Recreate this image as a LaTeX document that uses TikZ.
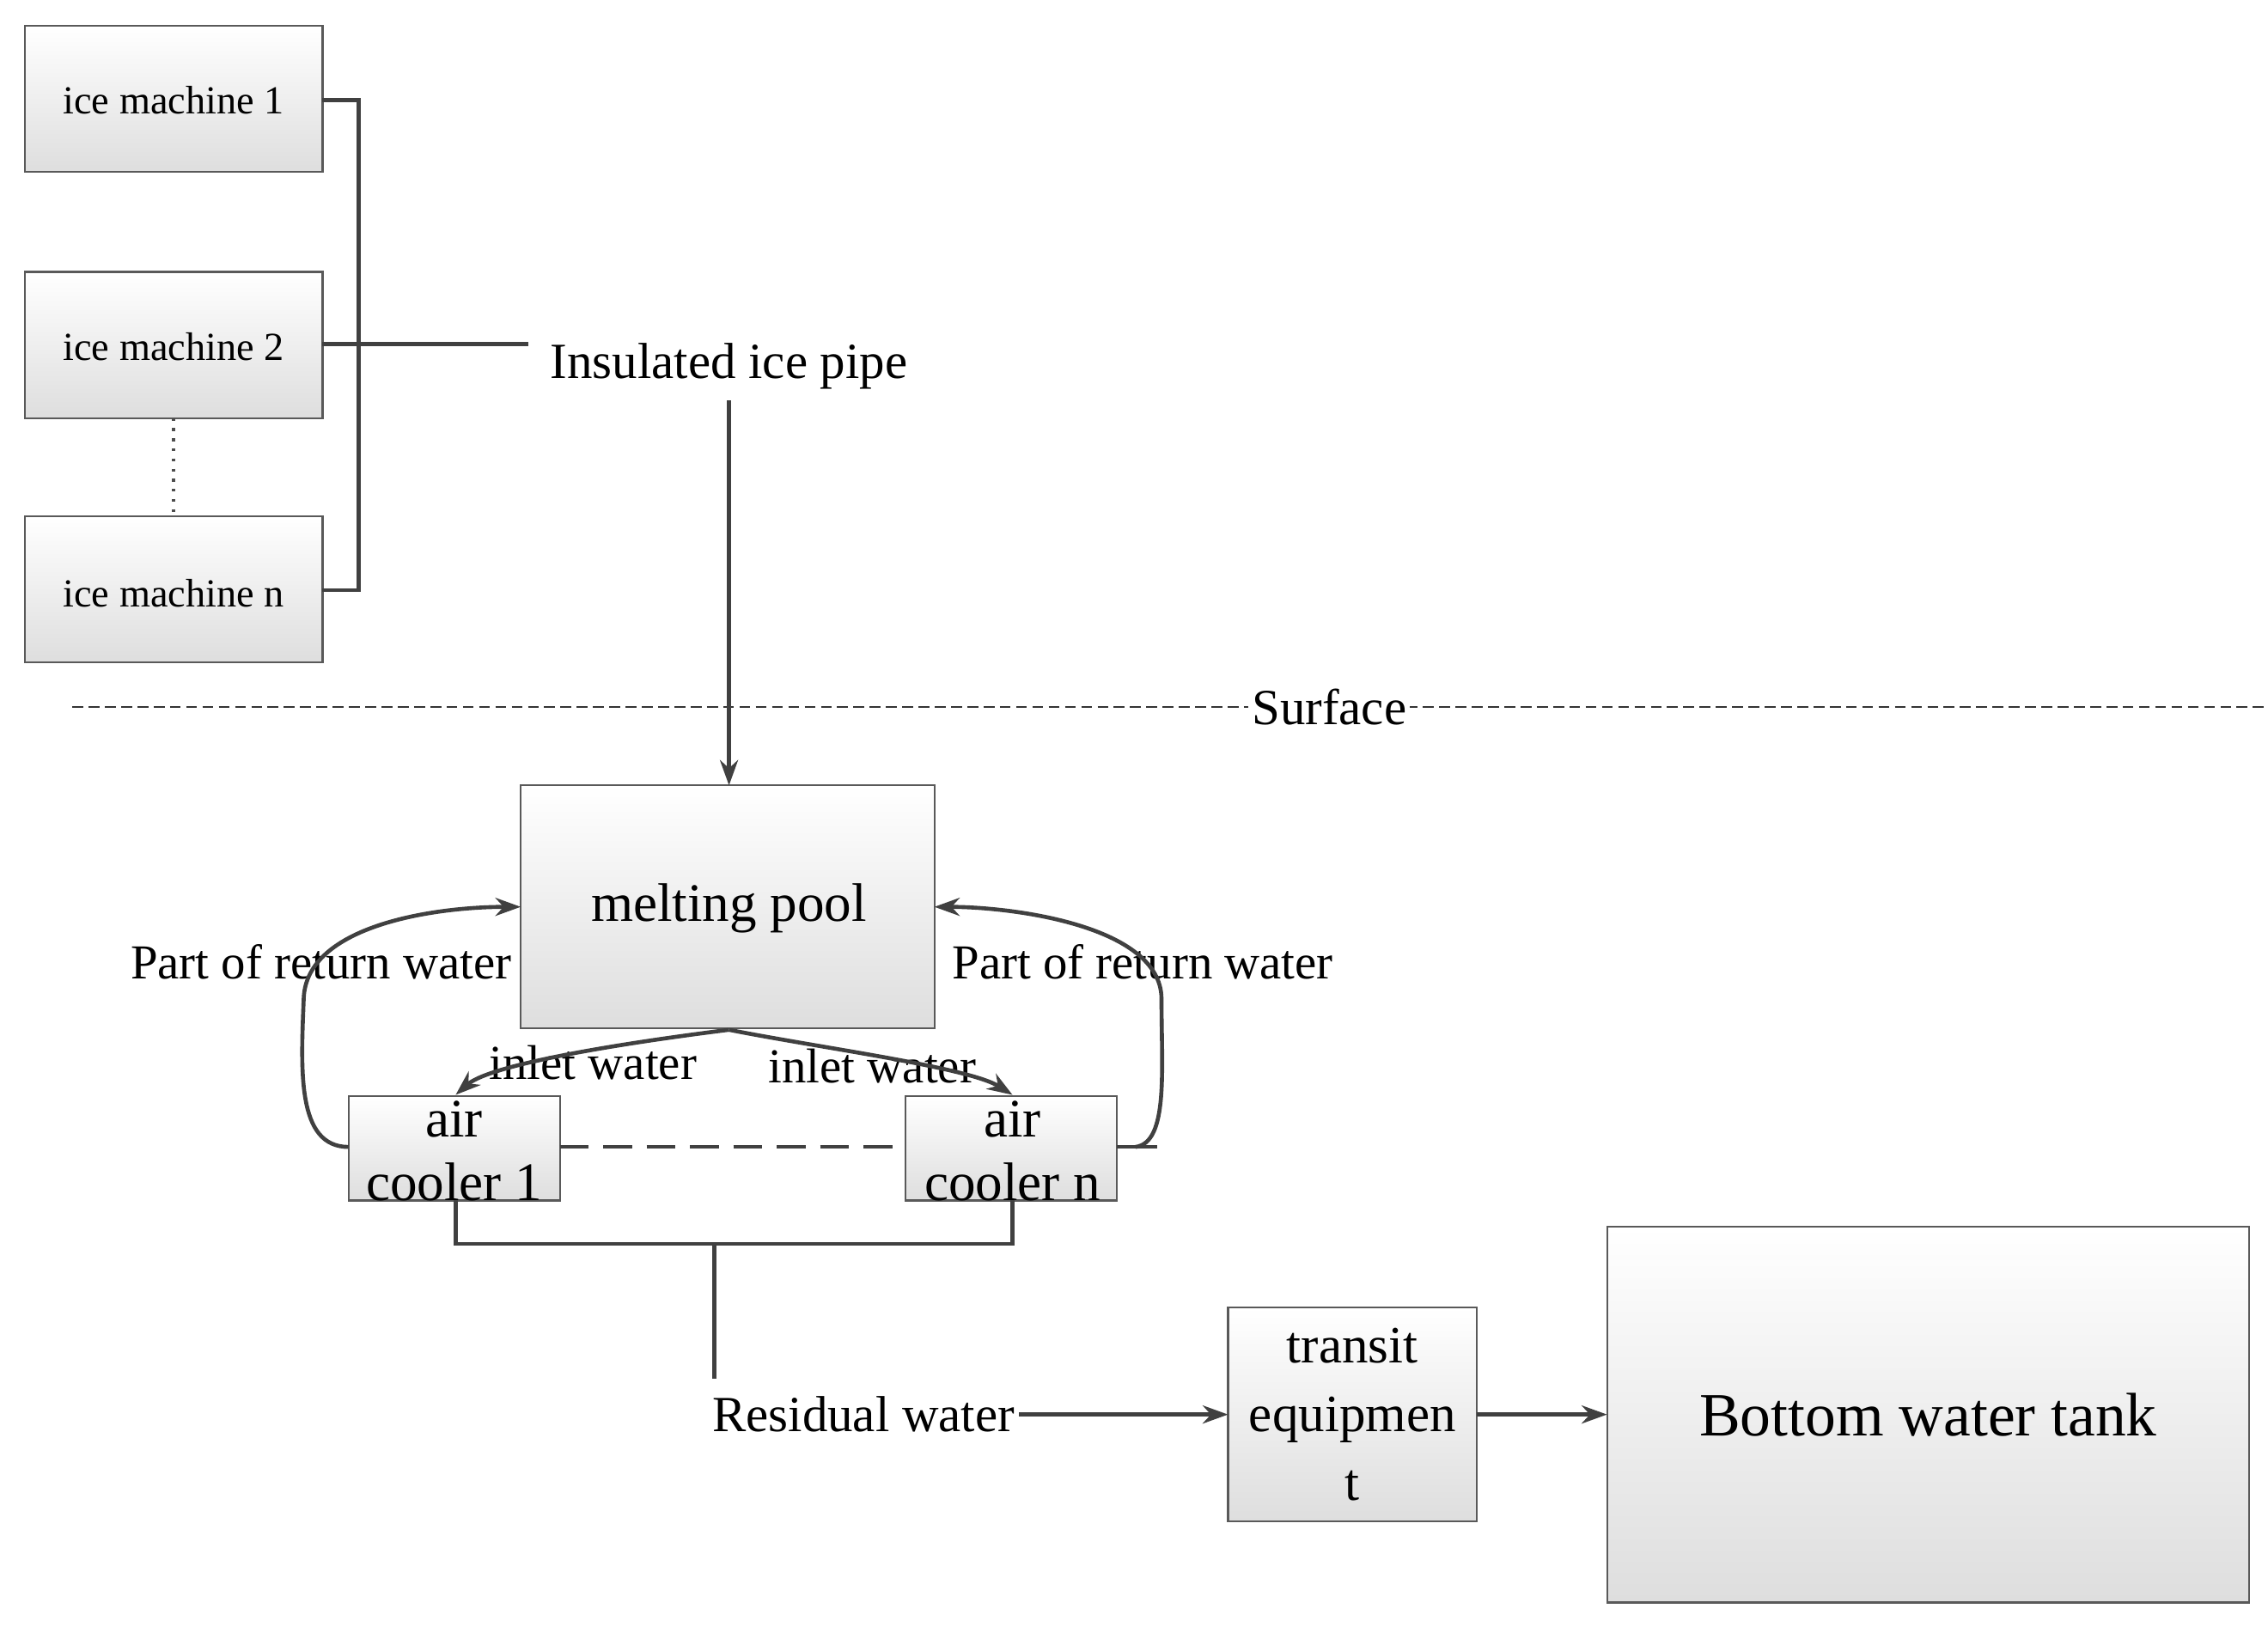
\documentclass[tikz,border=0pt]{standalone}
\usepackage{fontspec}
\setmainfont{Liberation Serif}
\usetikzlibrary{arrows.meta}
\begin{document}
\begin{tikzpicture}[x=0.4pt,y=-0.4pt,
  box/.style={draw=black!65,line width=0.5pt,top color=white,bottom color=black!13,inner sep=0pt},
  ln/.style={draw=black!75,line width=1.1pt},
  arr/.style={ln,-{Stealth[length=7pt,width=5pt]}},
  lab/.style={inner sep=1pt}]
\useasboundingbox (0,0) rectangle (1568,1129);
\fill[white] (0,0) rectangle (1568,1129);
% ice machines
\path[box] (17,18) rectangle (223,119); \node[font=\fontsize{11}{13}\selectfont] (im1) at (120,69) {ice machine 1};
\path[box] (17,188) rectangle (223,289); \node[font=\fontsize{11}{13}\selectfont] (im2) at (120,240) {ice machine 2};
\path[box] (17,357) rectangle (223,458); \node[font=\fontsize{11}{13}\selectfont] (imn) at (120,410) {ice machine n};
\draw[black!70,line width=0.8pt,dotted] (120,289) -- (120,357);
\draw[ln] (223,69) -- (248,69) -- (248,408) -- (223,408);
\node[lab,font=\fontsize{14}{16}\selectfont] (pipe) at (504,253) {Insulated ice pipe};
\draw[ln] (223,238) -- (365,238);
% surface
\draw[black!80,line width=0.5pt,dash pattern=on 3pt off 1.5pt] (50,489) -- (1568,489);
\node[fill=white,inner sep=1pt,font=\fontsize{14}{16}\selectfont] (surf) at (919,489) {Surface};
% melting pool
\path[box] (360,543) rectangle (646,711);
\node[font=\fontsize{15}{17}\selectfont] (pool) at (504,628) {melting pool};
\draw[arr] (504,277) -- (504,543);
% air coolers
\path[box] (241,758) rectangle (387,830);
\node[align=center,font=\fontsize{15}{17.5}\selectfont] (ac1) at (314,796) {air\\cooler 1};
\path[box] (626,758) rectangle (772,830);
\node[align=center,font=\fontsize{15}{17.5}\selectfont] (acn) at (700,796) {air\\cooler n};
\draw[black!75,line width=1.1pt,dash pattern=on 8pt off 4pt] (387,793) -- (626,793);
% return water
\node[lab,font=\fontsize{13.5}{16}\selectfont] (rl) at (222,665) {Part of return water};
\node[lab,font=\fontsize{13.5}{16}\selectfont] (rr) at (790,665) {Part of return water};
\draw[arr] (241,793) .. controls (205,793) and (208,740) .. (210,690) .. controls (212,640) and (300,627) .. (360,627);
\draw[ln] (772,793) -- (800,793);
\draw[arr] (785,793) .. controls (808,790) and (803,740) .. (803,690) .. controls (802,640) and (700,627) .. (646,627);
% inlet water
\node[lab,font=\fontsize{13.5}{16}\selectfont] (iwl) at (410,735) {inlet water};
\node[lab,font=\fontsize{13.5}{16}\selectfont] (iwr) at (603,737) {inlet water};
\draw[arr] (504,712) .. controls (440,720) and (340,735) .. (315,757);
\draw[arr] (504,712) .. controls (570,725) and (670,738) .. (700,757);
% residual
\draw[ln] (315,830) -- (315,860) -- (700,860) -- (700,830);
\draw[ln] (494,860) -- (494,953);
\node[lab,font=\fontsize{14}{16}\selectfont] (res) at (597,978) {Residual water};
\path[box] (849,904) rectangle (1021,1052);
\node[align=center,font=\fontsize{14.5}{19}\selectfont] (tr) at (935,978) {transit\\equipmen\\t};
\draw[arr] (res.east) -- (849,978);
\path[box] (1111,848) rectangle (1555,1108);
\node[font=\fontsize{17}{20}\selectfont] (tank) at (1333,978) {Bottom water tank};
\draw[arr] (1021,978) -- (1111,978);
\end{tikzpicture}
\end{document}
